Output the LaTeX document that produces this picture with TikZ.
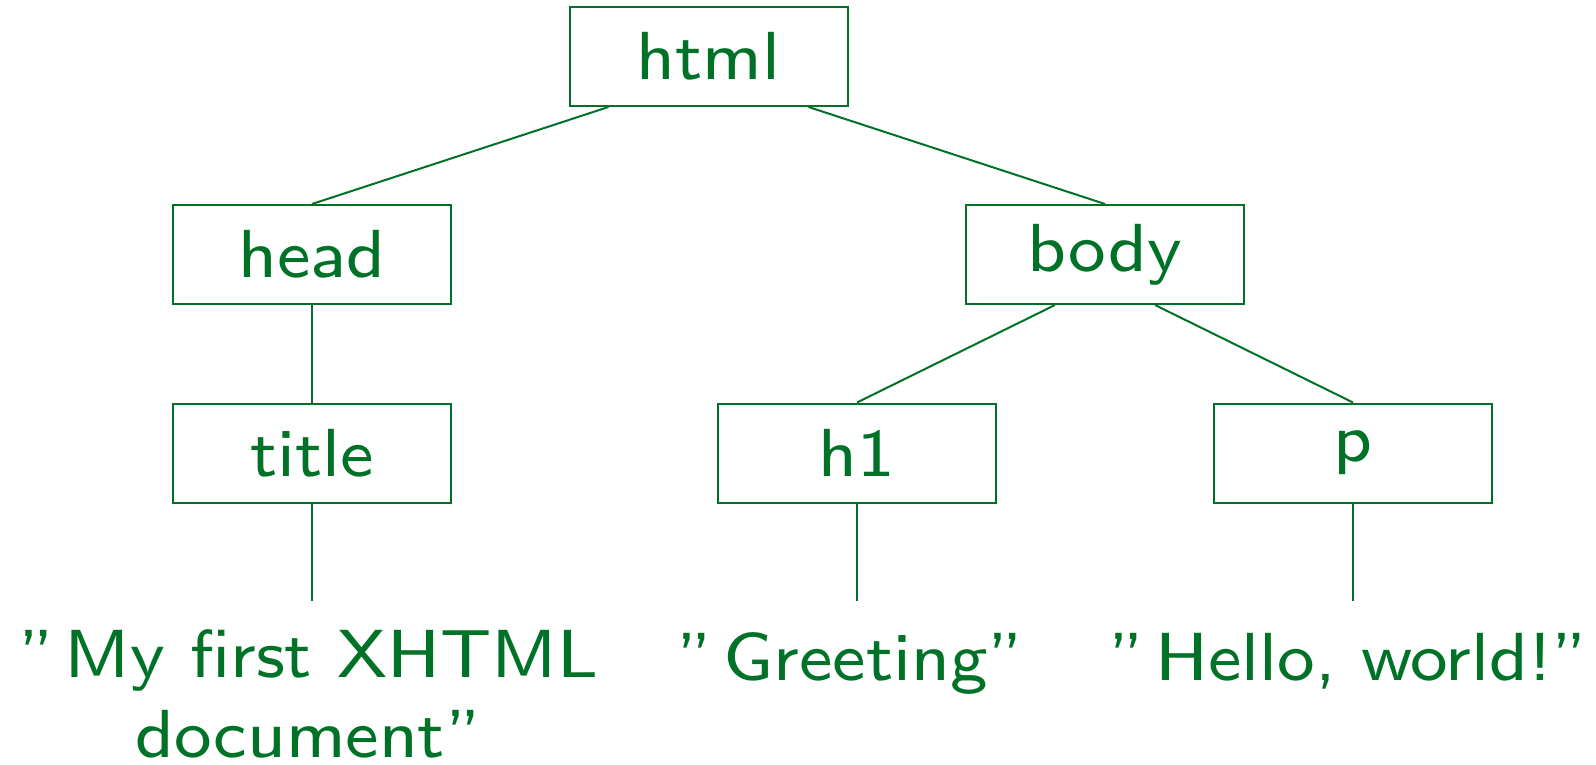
\documentclass[tikz,border=0pt]{standalone}
\definecolor{tgreen}{RGB}{0,114,40}
\font\slfont="[lmsans8-regular.otf]:mapping=tex-text;extend=1.04" at 34pt
\begin{document}
\begin{tikzpicture}[x=0.5pt,y=-0.5pt,
  every node/.style={font=\fontsize{34pt}{40pt}\selectfont\slfont, text=tgreen},
  tagbox/.style={draw=tgreen, line width=1pt, minimum width=139pt, minimum height=49.5pt, inner sep=0pt},
  link/.style={draw=tgreen, line width=1pt},
  leaf/.style={align=center, anchor=base, inner sep=0pt}]
\useasboundingbox (0,0) rectangle (1596,765);
\node[tagbox] (html)  at (708.5,56.5) {html};
\node[tagbox] (head)  at (312,254.5) {head};
\node[tagbox] (body)  at (1105,254.5) {body};
\node[tagbox] (title) at (312,453) {title};
\node[tagbox] (h1)    at (857,453) {h1};
\node[tagbox] (p)     at (1353,453) {p};
\coordinate (e1) at (312,601);
\coordinate (e2) at (857,601);
\coordinate (e3) at (1353,601);
\node[leaf] (t1) at (308,757) {''\,My first XHTML\\document''};
\node[leaf] (t2) at (850,680) {''\,Greeting''};
\node[leaf] (t3) at (1348,680) {''\,Hello, world!''};
\draw[link] ([xshift=-50pt]html.south) -- (head.north);
\draw[link] ([xshift=50pt]html.south) -- (body.north);
\draw[link] (head.south) -- (title.north);
\draw[link] ([xshift=-25pt]body.south) -- (h1.north);
\draw[link] ([xshift=25pt]body.south) -- (p.north);
\draw[link] (title.south) -- (e1);
\draw[link] (h1.south) -- (e2);
\draw[link] (p.south) -- (e3);
\end{tikzpicture}
\end{document}
